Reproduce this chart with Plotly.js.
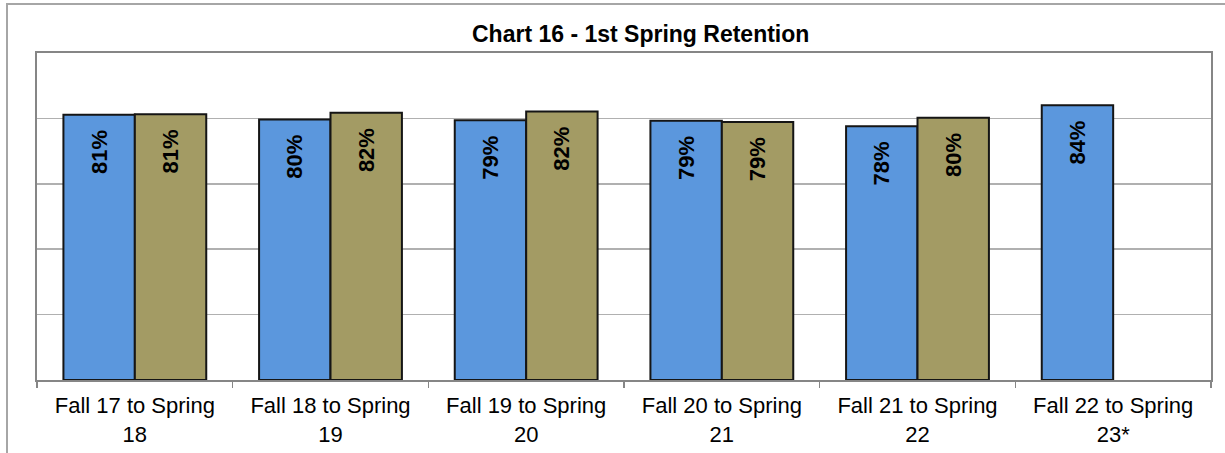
<!DOCTYPE html>
<html>
<head>
<meta charset="utf-8">
<script src="https://cdn.plot.ly/plotly-3.0.1.min.js"></script>
<style>
  html, body { margin: 0; padding: 0; background: #ffffff; }
  #wrap { position: relative; width: 1225px; height: 453px; overflow: hidden; }
  #chart { width: 1225px; height: 453px; }
  #frame { position: absolute; left: 6px; top: 3px; width: 1400px; height: 600px;
           border: 2px solid #a6a6a6; pointer-events: none; }
</style>
</head>
<body>
<div id="wrap">
  <div id="chart"></div>
  <div id="frame"></div>
</div>
<script>
// ---- data ----
const categories = [
  "Fall 17 to Spring 18",
  "Fall 18 to Spring 19",
  "Fall 19 to Spring 20",
  "Fall 20 to Spring 21",
  "Fall 21 to Spring 22",
  "Fall 22 to Spring 23*"
];
const tickLabels = [
  "Fall 17 to Spring<br>18",
  "Fall 18 to Spring<br>19",
  "Fall 19 to Spring<br>20",
  "Fall 20 to Spring<br>21",
  "Fall 21 to Spring<br>22",
  "Fall 22 to Spring<br>23*"
];
const seriesBlueName = "Series 1";
const seriesBlue = [81.1, 79.7, 79.4, 79.3, 77.6, 84.0];
const seriesGoldName = "Series 2";
const seriesGold = [81.3, 81.7, 82.1, 78.9, 80.2, null];
const chartTitle = "Chart 16 - 1st Spring Retention";

// ---- drawing ----
const labelFont = { family: "Liberation Sans, Arial, sans-serif", size: 22, color: "#000000" };
function barTrace(name, values, color) {
  return {
    type: "bar",
    name: name,
    x: categories,
    y: values,
    marker: { color: color, line: { color: "#151515", width: 2 } },
    texttemplate: "<b>%{y:.0f}%</b>\u00a0\u00a0",
    textposition: "inside",
    insidetextanchor: "end",
    textangle: -90,
    textfont: labelFont,
    cliponaxis: false,
    hoverinfo: "x+y+name"
  };
}

const data = [
  barTrace(seriesBlueName, seriesBlue, "#5b97dd"),
  barTrace(seriesGoldName, seriesGold, "#a39b64")
];

const layout = {
  width: 1225,
  height: 453,
  margin: { l: 37, r: 14, t: 53, b: 73 },
  paper_bgcolor: "rgba(0,0,0,0)",
  plot_bgcolor: "#ffffff",
  showlegend: false,
  barmode: "group",
  bargap: 0.27,
  bargroupgap: 0,
  title: {
    text: "<b>" + chartTitle + "</b>",
    font: { family: "Liberation Sans, Arial, sans-serif", size: 23, color: "#000000" },
    x: 0.523,
    xref: "container",
    xanchor: "center",
    y: 1,
    yref: "container",
    yanchor: "top",
    pad: { t: 26 }
  },
  xaxis: {
    type: "category",
    tickmode: "array",
    tickvals: categories,
    ticktext: tickLabels,
    tickson: "boundaries",
    ticks: "outside",
    ticklen: 6,
    tickcolor: "#868686",
    tickwidth: 1.5,
    ticklabelstandoff: 5,
    showgrid: false,
    showline: true,
    linecolor: "#868686",
    linewidth: 2,
    mirror: true,
    tickfont: { family: "Liberation Sans, Arial, sans-serif", size: 22, color: "#000000" },
    fixedrange: true
  },
  yaxis: {
    range: [0, 100],
    dtick: 20,
    showticklabels: false,
    ticks: "",
    showgrid: true,
    gridcolor: "#b0b0b0",
    gridwidth: 1.5,
    zeroline: false,
    showline: true,
    linecolor: "#868686",
    linewidth: 2,
    mirror: true,
    fixedrange: true
  }
};

Plotly.newPlot("chart", data, layout, { displayModeBar: false, staticPlot: true });
</script>
</body>
</html>
